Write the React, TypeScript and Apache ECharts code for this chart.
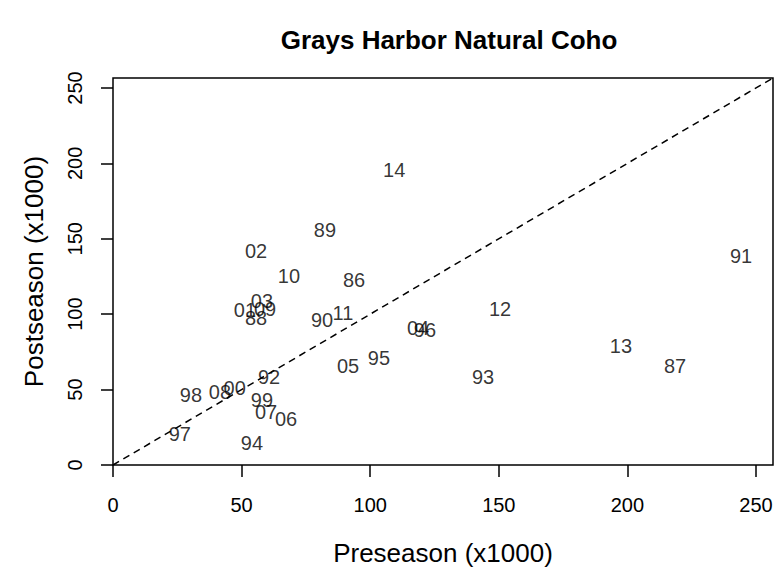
import React, { useEffect, useRef } from "react";
import * as echarts from "echarts";

const years = ["86","87","88","89","90","91","92","93","94","95","96","97","98","99","00","01","02","03","04","05","06","07","08","09","10","11","12","13","14"];
const preseason = [93.7,218.5,55.6,82.4,81.3,244.2,60.7,143.9,54.0,103.4,121.3,26.0,30.3,57.9,47.3,51.3,55.6,57.9,118.6,91.4,67.3,59.5,41.6,59.1,68.4,89.4,150.5,197.5,109.3];
const postseason = [122.7,65.6,97.5,155.8,96.2,138.6,58.4,58.4,14.6,71.0,89.5,20.6,46.4,43.1,51.0,102.8,141.9,108.8,90.8,65.6,30.5,35.1,48.5,103.4,125.3,100.8,103.4,78.9,195.6];
const tickValues = [0, 50, 100, 150, 200, 250];
const axisMax = 256.6;

const FONT = "Liberation Sans, Arial, Helvetica, sans-serif";

export default function App() {
  const ref = useRef<HTMLDivElement>(null);
  useEffect(() => {
    if (!ref.current) return;
    const chart = echarts.init(ref.current, null, { renderer: "svg" });
    const points = years.map((y, i) => [preseason[i], postseason[i], y]);
    const tickStyle = { show: true, length: 12, inside: false, lineStyle: { color: "#000", width: 1.5 }, customValues: tickValues };
    const axisCommon = {
      type: "value" as const,
      min: 0,
      max: axisMax,
      splitLine: { show: false },
      axisLine: { show: false },
      axisTick: tickStyle,
      nameLocation: "middle" as const,
      nameTextStyle: { fontFamily: FONT, fontSize: 26, color: "#000" },
    };
    chart.setOption({
      animation: false,
      backgroundColor: "#fff",
      textStyle: { fontFamily: FONT },
      title: {
        text: "Grays Harbor Natural Coho",
        left: 444,
        textAlign: "center",
        top: 22,
        textStyle: { fontFamily: FONT, fontSize: 26, fontWeight: "bold", color: "#000" },
      },
      grid: {
        left: 113,
        right: 9,
        top: 78,
        bottom: 108,
        show: true,
        borderColor: "#000",
        borderWidth: 1.5,
        backgroundColor: "transparent",
      },
      xAxis: {
        ...axisCommon,
        name: "Preseason (x1000)",
        nameGap: 75,
        axisLabel: {
          fontFamily: FONT,
          fontSize: 20,
          color: "#000",
          margin: 30,
          customValues: tickValues,
        },
      },
      yAxis: {
        ...axisCommon,
        name: "Postseason (x1000)",
        nameGap: 66,
        axisLabel: {
          fontFamily: FONT,
          fontSize: 20,
          color: "#000",
          margin: 28,
          rotate: 90,
          customValues: tickValues,
        },
      },
      series: [
        {
          type: "line",
          data: [[0, 0], [axisMax, axisMax]],
          symbol: "none",
          silent: true,
          lineStyle: { color: "#000", width: 1.5, type: [7, 5] },
          z: 1,
        },
        {
          type: "scatter",
          data: points,
          symbolSize: 1,
          itemStyle: { color: "rgba(0,0,0,0)" },
          label: {
            show: true,
            position: "inside",
            formatter: (p: any) => p.data[2],
            fontFamily: FONT,
            fontSize: 20,
            color: "#000",
            textBorderWidth: 0,
          },
          z: 2,
        },
      ],
    });
    return () => chart.dispose();
  }, []);
  return <div ref={ref} style={{ width: 782, height: 573, position: "absolute", left: 0, top: 0 }} />;
}
